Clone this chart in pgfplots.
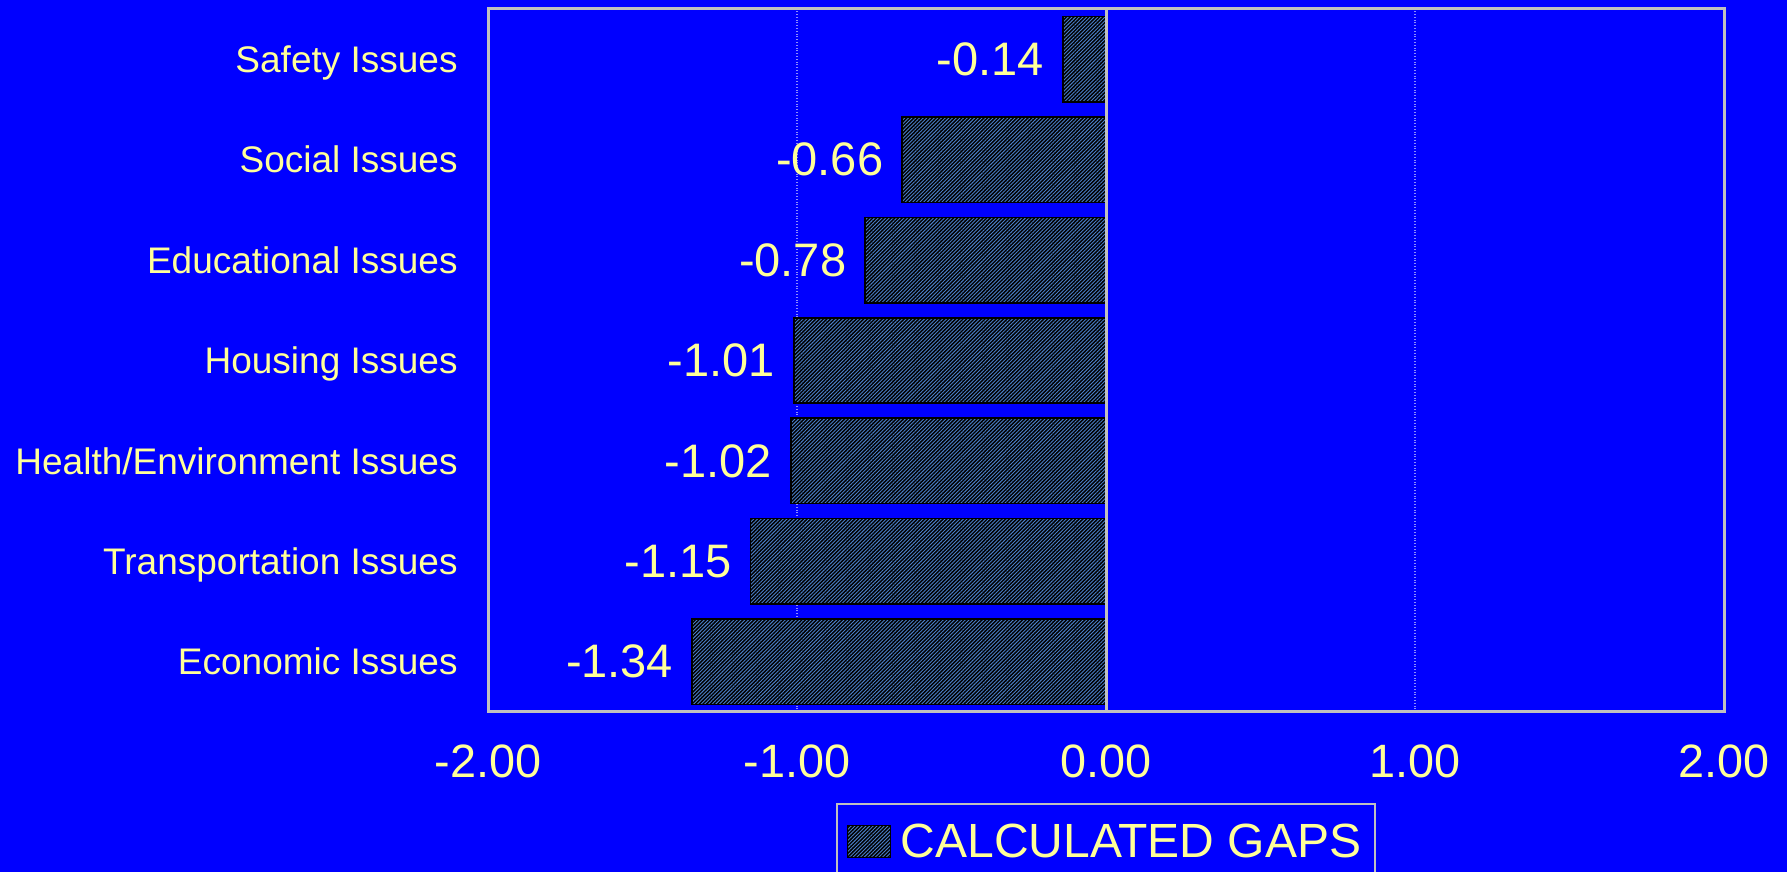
\documentclass[border=0pt]{standalone}
\usepackage{pgfplots}
\pgfplotsset{compat=1.18}
\usetikzlibrary{patterns.meta}
\usepackage{fontspec}
\setmainfont{Liberation Sans}
\definecolor{bg}{HTML}{0000FF}
\definecolor{txt}{HTML}{FFFF99}
\definecolor{frame}{HTML}{C0C0C0}
\definecolor{hatch}{HTML}{4A7FC8}
\definecolor{gridc}{HTML}{8C8CFF}
\begin{document}
\begin{tikzpicture}
\path[use as bounding box] (0,0) rectangle (893.5pt,436pt);
\clip (0,0) rectangle (893.5pt,436pt);
\fill[bg] (0,0) rectangle (893.5pt,436pt);
\begin{axis}[
  at={(244pt,80pt)}, anchor=south west,
  scale only axis, width=618pt, height=351.5pt,
  xbar, bar width=0.85,
  xmin=-2, xmax=2, ymin=-0.5, ymax=6.5,
  xtick={-2,-1,0,1,2},
  xticklabel style={/pgf/number format/.cd, fixed, fixed zerofill, precision=2, assume math mode=true, /tikz/.cd,
    font=\fontsize{23.4pt}{26pt}\selectfont, text=txt, inner sep=0pt, anchor=north, yshift=-16pt},
  ytick={0,1,2,3,4,5,6},
  yticklabels={Economic Issues, Transportation Issues, Health/Environment Issues, Housing Issues, Educational Issues, Social Issues, Safety Issues},
  yticklabel style={font=\fontsize{18.5pt}{22pt}\selectfont, text=txt, inner sep=0pt, anchor=base east, xshift=-15pt,
    yshift=-6.6pt},
  major tick length=0pt,
  axis line style={draw=frame, line width=1.5pt},
  xmajorgrids, grid style={densely dotted, gridc, line width=0.6pt},
  axis background/.style={fill=bg},
  point meta=explicit symbolic,
  nodes near coords,
  every node near coord/.append style={anchor=east, inner sep=0pt, xshift=-9pt, text=txt, font=\fontsize{23.5pt}{26pt}\selectfont},
  legend style={at={(0.5,-0.129)}, anchor=north, draw=frame, line width=1pt, fill=bg, text=txt,
    font=\fontsize{24pt}{27pt}\selectfont, inner xsep=5pt, inner ysep=8pt},
  legend cell align=left,
  legend image code/.code={\draw[#1,draw=black,line width=0.5pt] (0pt,-8pt) rectangle (21.5pt,8pt);},
]
\addplot[draw=black, line width=0.8pt, fill=black,
  postaction={pattern={Lines[angle=45,distance=1.3pt,line width=0.45pt]}, pattern color=hatch}]
coordinates {
  (-1.34,0) [-1.34]
  (-1.15,1) [-1.15]
  (-1.02,2) [-1.02]
  (-1.01,3) [-1.01]
  (-0.78,4) [-0.78]
  (-0.66,5) [-0.66]
  (-0.14,6) [-0.14]
};
\addlegendentry{\hspace{3pt}CALCULATED GAPS\hspace{20pt}}
\draw[frame, line width=1.5pt] (axis cs:0,-0.5) -- (axis cs:0,6.5);
\end{axis}
\end{tikzpicture}
\end{document}
